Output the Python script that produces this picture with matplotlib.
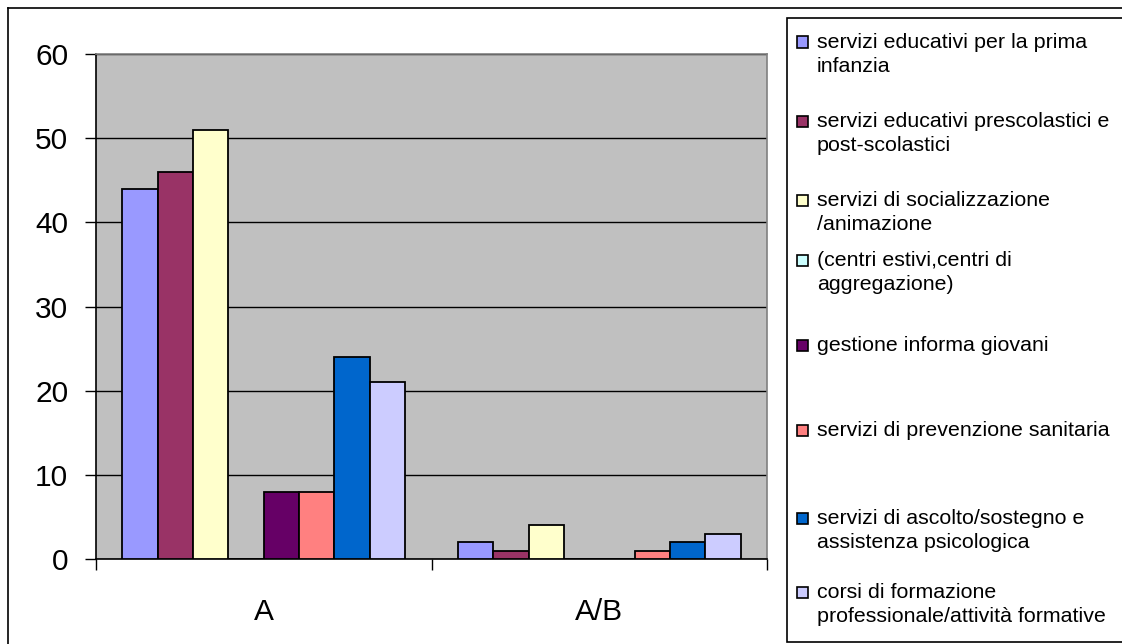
import matplotlib
matplotlib.use("Agg")
import matplotlib.pyplot as plt
from matplotlib.patches import Rectangle
from matplotlib.lines import Line2D
import numpy as np

plt.rcParams['font.family'] = ['Liberation Sans', 'DejaVu Sans']

categories = ["A", "A/B"]
series_names = [
    "servizi educativi per la prima\ninfanzia",
    "servizi educativi prescolastici e\npost-scolastici",
    "servizi di socializzazione\n/animazione",
    "(centri estivi,centri di\naggregazione)",
    "gestione informa giovani",
    "servizi di prevenzione sanitaria",
    "servizi di ascolto/sostegno e\nassistenza psicologica",
    "corsi di formazione\nprofessionale/attività formative",
]
values_A = [44, 46, 51, 0, 8, 8, 24, 21]
values_AB = [2, 1, 4, 0, 0, 1, 2, 3]
colors = ["#9999FF", "#993366", "#FFFFCC", "#CCFFFF",
          "#660066", "#FF8080", "#0066CC", "#CCCCFF"]
y_ticks = [0, 10, 20, 30, 40, 50, 60]

W, H = 1122, 644
fig = plt.figure(figsize=(W / 100, H / 100), dpi=100)

def fx(px):
    return px / W

def fy(py):
    return 1 - py / H

left, right, top, bottom = 96, 767, 54, 559
ax = fig.add_axes([fx(left), fy(bottom), fx(right - left), fy(top) - fy(bottom)])
ax.set_facecolor("#C0C0C0")

n = len(series_names)
w = 1 / (n + 1.5)
x = np.arange(len(categories))
for i in range(n):
    vals = [values_A[i], values_AB[i]]
    ax.bar(x + (i - (n - 1) / 2) * w, vals, width=w, color=colors[i],
           edgecolor="black", linewidth=1.3, zorder=3)

ax.set_xlim(-0.5, len(categories) - 0.5)
ax.set_ylim(0, 60)
ax.set_yticks(y_ticks)
ax.yaxis.grid(True, color="black", linewidth=1.0, zorder=0)
ax.set_axisbelow(True)
ax.tick_params(axis="y", labelsize=21.5, length=8, width=1, pad=12, direction="out")

ax.set_xticks(x)
ax.set_xticklabels(categories)
ax.set_xticks(np.arange(len(categories) + 1) - 0.5, minor=True)
ax.tick_params(axis="x", which="major", length=0, labelsize=21.5, pad=28)
ax.tick_params(axis="x", which="minor", length=8, width=1, direction="out")

for s in ["top", "right"]:
    ax.spines[s].set_color("#808080")
    ax.spines[s].set_linewidth(1.2)
for s in ["left", "bottom"]:
    ax.spines[s].set_color("black")
    ax.spines[s].set_linewidth(1.2)

# outer chart border
fig.add_artist(Line2D([fx(8), fx(8)], [fy(8), 0], color="black", linewidth=1.2,
                      transform=fig.transFigure))
fig.add_artist(Line2D([fx(8), 1], [fy(8), fy(8)], color="black", linewidth=1.2,
                      transform=fig.transFigure))

# legend box
fig.add_artist(Rectangle((fx(787), fy(642)), fx(W - 787 + 20), fy(18) - fy(642),
                         transform=fig.transFigure, facecolor="white",
                         edgecolor="black", linewidth=1.2))

entry_y = [42, 121, 200, 260, 345, 430, 518, 592]
line_gap = 24
for i, name in enumerate(series_names):
    yc = entry_y[i]
    fig.add_artist(Rectangle((fx(797), fy(yc + 5.5)), fx(11), fy(yc - 5.5) - fy(yc + 5.5),
                             transform=fig.transFigure, facecolor=colors[i],
                             edgecolor="black", linewidth=1.2))
    for j, line in enumerate(name.split("\n")):
        fig.text(fx(817), fy(yc + 6 + j * line_gap), line, fontsize=15.4,
                 va="baseline", ha="left", color="black")

fig.savefig("out.png", dpi=100)
